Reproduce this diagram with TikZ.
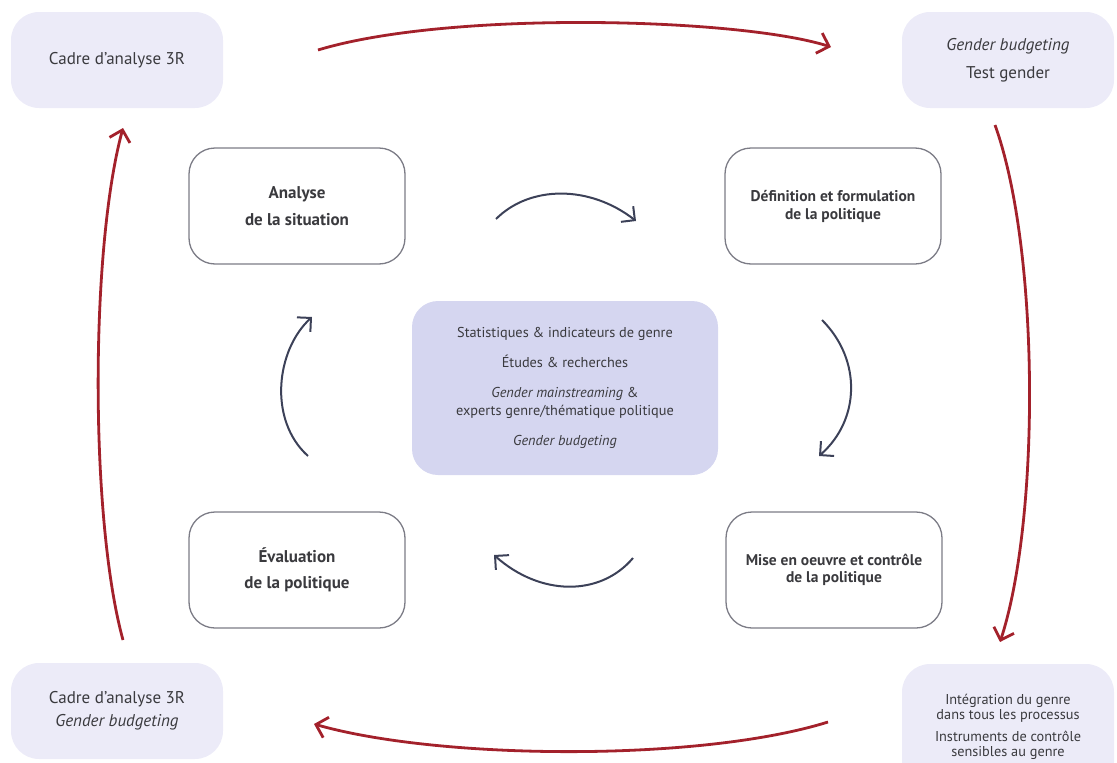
\documentclass[tikz,border=0pt]{standalone}
\usepackage{fontspec}
\setmainfont{PT Sans}
\usetikzlibrary{arrows.meta}
\definecolor{txt}{HTML}{3A3A3E}
\definecolor{lav}{HTML}{ECEBF8}
\definecolor{lavdark}{HTML}{D5D6F0}
\definecolor{frame}{HTML}{7C7C86}
\definecolor{redarrow}{HTML}{A3212B}
\definecolor{navy}{HTML}{3C4158}
\begin{document}
\begin{tikzpicture}[x=1pt,y=-1pt,
  outerbox/.style={fill=lav, draw=none, rounded corners=28pt, minimum width=212pt,
    minimum height=96pt, align=center, text=txt, font=\fontsize{17}{20}\selectfont},
  stagebox/.style={fill=white, draw=frame, line width=1.3pt, rounded corners=26pt,
    minimum width=216pt, minimum height=116pt, align=center, text=txt},
  corebox/.style={fill=lavdark, draw=none, rounded corners=26pt, minimum width=306pt,
    minimum height=174pt, align=center, text=txt, font=\fontsize{14.3}{18}\selectfont},
  bigloop/.style={draw=redarrow, line width=2.8pt, line join=miter,
    -{Straight Barb[angle=90:15pt]}},
  smallloop/.style={draw=navy, line width=2pt, line join=miter,
    -{Straight Barb[angle=90:14pt]}}]
\useasboundingbox (0,0) rectangle (1117,763);
\clip (0,0) rectangle (1117,763);

% outer ring of tools
\node[outerbox] (tl) at (117,60) {Cadre d’analyse 3R};
\node[outerbox] (tr) at (1008,60) {\textit{Gender budgeting}\\[8pt] Test gender};
\node[outerbox] (bl) at (117,711) {Cadre d’analyse 3R\\[3pt]\textit{Gender budgeting}};
\node[outerbox, minimum height=126pt, font=\fontsize{14.3}{15.5}\selectfont] (br) at (1008,727)
  {Intégration du genre\\dans tous les processus\\[6pt]Instruments de contrôle\\sensibles au genre};

% policy cycle stages
\node[stagebox, font=\bfseries\fontsize{17}{27}\selectfont] (an) at (297,206) {Analyse\\de la situation};
\node[stagebox, font=\bfseries\fontsize{15.5}{18}\selectfont] (df) at (833,206) {Définition et formulation\\de la politique};
\node[stagebox, font=\bfseries\fontsize{17}{26}\selectfont] (ev) at (297,570) {Évaluation\\de la politique};
\node[stagebox, font=\bfseries\fontsize{15.5}{17.5}\selectfont] (mo) at (834,570) {Mise en oeuvre et contrôle\\de la politique};

% central resources
\node[corebox] (core) at (565,388)
  {Statistiques \& indicateurs de genre\\[12pt]
   Études \& recherches\\[12pt]
   \textit{Gender mainstreaming} \&\\experts genre/thématique politique\\[12pt]
   \textit{Gender budgeting}};

% end points of the outer loop
\coordinate (r1) at (318,50);
\coordinate (r2) at (831,47);
\coordinate (r3) at (995,125);
\coordinate (r4) at (1000,642);
\coordinate (r5) at (828,722);
\coordinate (r6) at (314,724);
\coordinate (r7) at (123,640);
\coordinate (r8) at (123,128);

\draw[bigloop] (r1) .. controls (450,10) and (740,18) .. (r2);
\draw[bigloop] (r3) .. controls (1040,250) and (1040,520) .. (r4);
\draw[bigloop] (r5) .. controls (700,762) and (440,760) .. (r6);
\draw[bigloop] (r7) .. controls (90,520) and (90,250) .. (r8);

% end points of the inner loop
\coordinate (n1) at (496,219);
\coordinate (n2) at (636,221);
\coordinate (n3) at (822,320);
\coordinate (n4) at (819,456);
\coordinate (n5) at (633,558);
\coordinate (n6) at (494,555);
\coordinate (n7) at (308,456);
\coordinate (n8) at (312,317);

\draw[smallloop] (n1) .. controls (530,185) and (590,185) .. (n2);
\draw[smallloop] (n3) .. controls (862,360) and (860,420) .. (n4);
\draw[smallloop] (n5) .. controls (600,597) and (540,596) .. (n6);
\draw[smallloop] (n7) .. controls (268,420) and (276,350) .. (n8);
\end{tikzpicture}
\end{document}
